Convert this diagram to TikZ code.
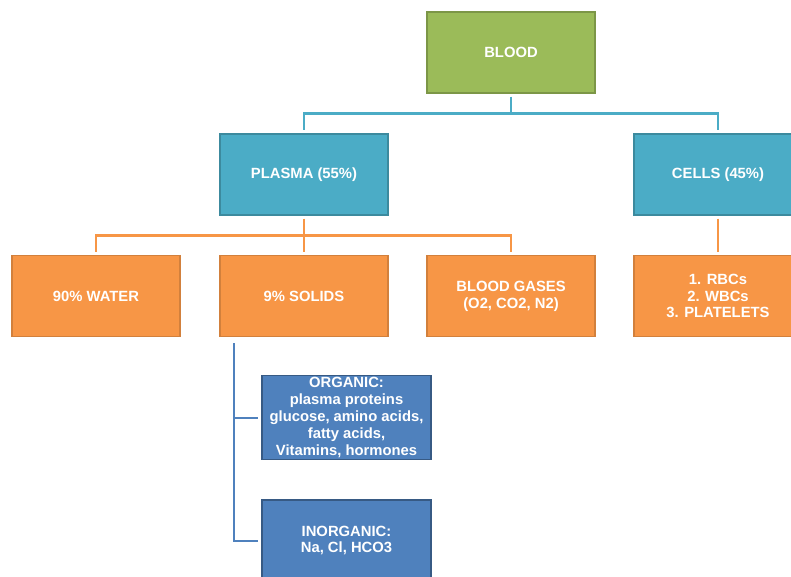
\documentclass[tikz,border=0pt]{standalone}
\usepackage{fontspec}
\setmainfont{Liberation Sans}
\usetikzlibrary{calc,positioning}
\definecolor{grn}{HTML}{9BBB59}
\definecolor{aqua}{HTML}{4BACC6}
\definecolor{orng}{HTML}{F79646}
\definecolor{dblu}{HTML}{4F81BD}
\tikzset{
  bx/.style={rectangle,minimum width=168pt,minimum height=81pt,inner sep=2pt,
    line width=1.2pt,text=white,align=center,
    font=\fontsize{14.8}{16.8}\selectfont\bfseries},
  bxg/.style={bx,fill=grn,draw=grn!80!black},
  bxa/.style={bx,fill=aqua,draw=aqua!80!black},
  bxo/.style={bx,fill=orng,draw=orng!85!black},
  bxd/.style={bx,fill=dblu,draw=dblu!70!black,minimum width=169pt},
  lka/.style={draw=aqua,line width=2.8pt,shorten >=3pt},
  lko/.style={draw=orng,line width=2.8pt,shorten >=3pt},
  lkd/.style={draw=dblu,line width=2pt,shorten >=3pt},
}
\begin{document}
\begin{tikzpicture}[x=1pt,y=-1pt]
\useasboundingbox[fill=white] (0,0) rectangle (791,577);
% ---- top levels
\node[bxg] (blood) at (511,52.5) {BLOOD};
\node[bxa] (plasma) at (304,174.5) {PLASMA (55\%)};
\node[bxa] (cells) at (718,174.5) {CELLS (45\%)};
\draw[lka,shorten <=3pt] (blood.south) -- ++(0,20) coordinate (jb) -| (plasma.north);
\draw[lka] (jb) -| (cells.north);
% ---- plasma and cell parts
\node[bxo] (water) at (96,296) {90\% WATER};
\node[bxo] (solids) at (304,296) {9\% SOLIDS};
\node[bxo] (gases) at (511,296) {BLOOD GASES\\(O2, CO2, N2)};
\node[bxo] (cellk) at (718,296) {1. RBCs\\2. WBCs\\3. PLATELETS};
\draw[lko,shorten <=3pt] (plasma.south) -- ++(0,20) coordinate (jp) -| (water.north);
\draw[lko] (jp) -| (gases.north);
\draw[lko] (jp) -- (solids.north);
\draw[lko,shorten <=3pt] (cells.south) -- (cellk.north);
% ---- solids
\node[bxd] (organic) at (346.5,417.5) {ORGANIC:\\plasma proteins\\glucose, amino acids,\\fatty acids,\\Vitamins, hormones};
\node[bxd] (inorganic) at (346.5,540.5) {INORGANIC:\\Na, Cl, HCO3};
\coordinate (js) at ($(solids.south west)+(15,6)$);
\draw[lkd] (js) |- (organic.west);
\draw[lkd] (js) |- (inorganic.west);
\end{tikzpicture}
\end{document}
